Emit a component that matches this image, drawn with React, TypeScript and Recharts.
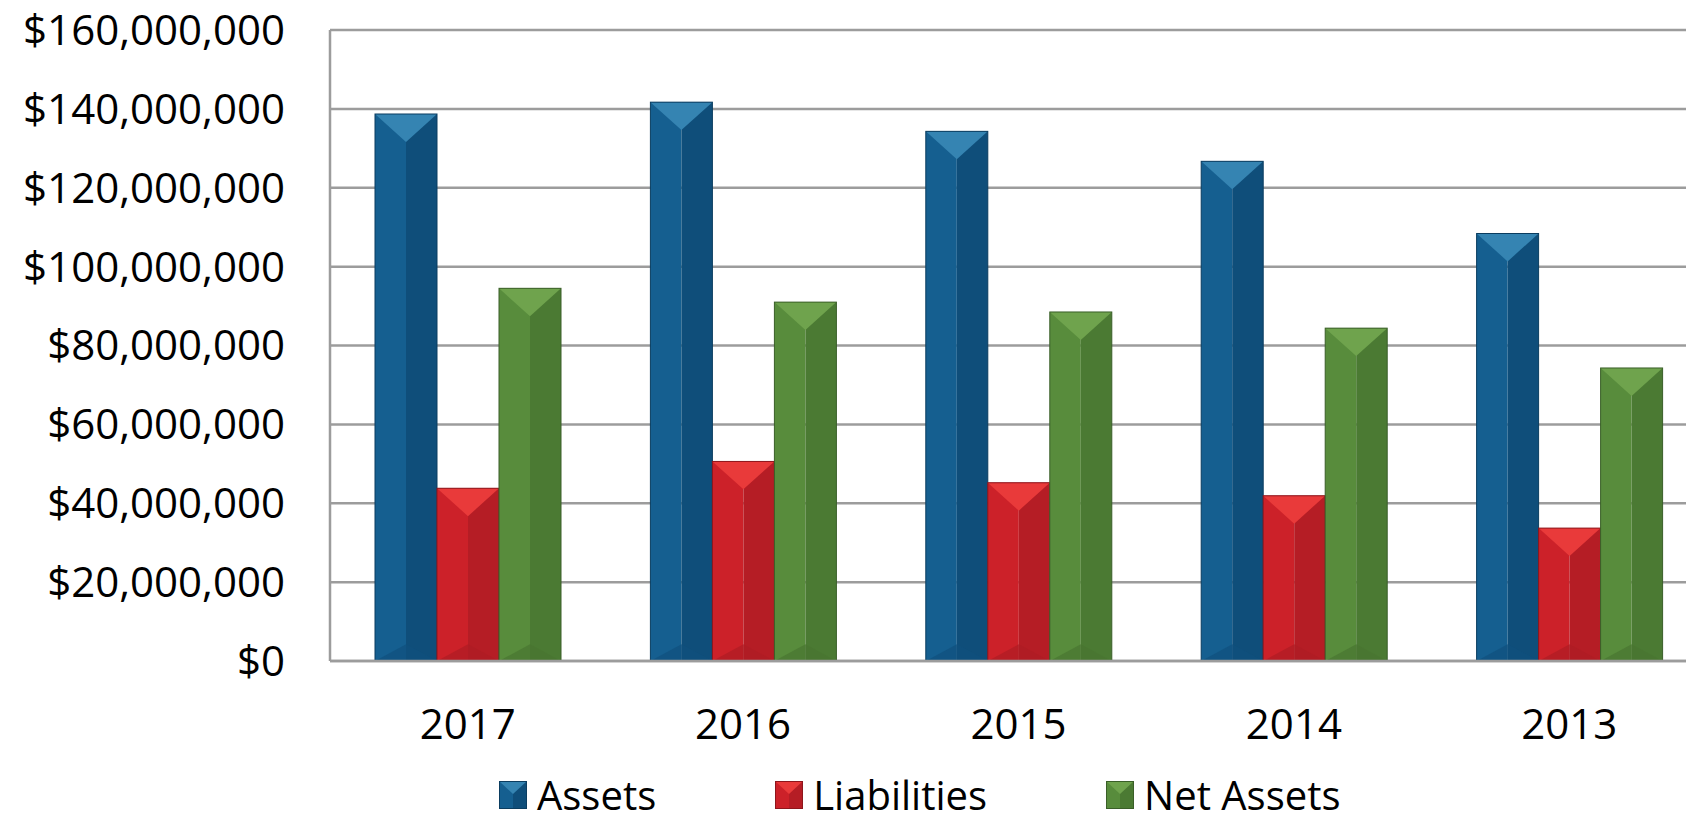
import { BarChart, Bar, XAxis, YAxis, CartesianGrid, Legend } from 'recharts';

const years = ['2017', '2016', '2015', '2014', '2013'];
const assets = [138700000, 141700000, 134300000, 126700000, 108400000];
const liabilities = [43800000, 50600000, 45200000, 41900000, 33700000];
const netAssets = [94500000, 91000000, 88500000, 84400000, 74300000];
const yTicks = [0, 20000000, 40000000, 60000000, 80000000, 100000000, 120000000, 140000000, 160000000];

const data = years.map((year, i) => ({
  year,
  assets: assets[i],
  liabilities: liabilities[i],
  netAssets: netAssets[i],
}));

const palette: Record<string, { left: string; right: string; top: string; bottom: string; edge: string }> = {
  assets: { left: '#155f90', right: '#0f4e7a', top: '#3584b2', bottom: '#10507e', edge: '#0b3d60' },
  liabilities: { left: '#cc2129', right: '#b51d25', top: '#e93a3a', bottom: '#ae1c23', edge: '#8e161c' },
  netAssets: { left: '#588c3c', right: '#4b7a33', top: '#6fa34d', bottom: '#497531', edge: '#3a5f28' },
};

const fmt = (v: number) => '$' + v.toLocaleString('en-US');

const BevelBar = (props: any) => {
  const { x, y, width, height, dataKey } = props;
  if (!height || height <= 0) return null;
  const c = palette[dataKey];
  const half = width / 2;
  const depth = Math.min(width * 0.45, height / 2);
  return (
    <g>
      <rect x={x} y={y} width={half} height={height} fill={c.left} />
      <rect x={x + half} y={y} width={width - half} height={height} fill={c.right} />
      <polygon points={`${x},${y} ${x + width},${y} ${x + half},${y + depth}`} fill={c.top} />
      <polygon
        points={`${x},${y + height} ${x + width},${y + height} ${x + half},${y + height - depth * 0.6}`}
        fill={c.bottom}
        opacity={0.7}
      />
      <rect x={x} y={y} width={width} height={height} fill="none" stroke={c.edge} strokeWidth={1} />
    </g>
  );
};

const legendItems = [
  { key: 'assets', label: 'Assets' },
  { key: 'liabilities', label: 'Liabilities' },
  { key: 'netAssets', label: 'Net Assets' },
];

const LegendSwatch = ({ k }: { k: string }) => {
  const c = palette[k];
  return (
    <svg width={28} height={28} style={{ display: 'block' }}>
      <rect x={0} y={0} width={14} height={28} fill={c.left} />
      <rect x={14} y={0} width={14} height={28} fill={c.right} />
      <polygon points="0,0 28,0 14,13" fill={c.top} />
      <rect x={0.5} y={0.5} width={27} height={27} fill="none" stroke={c.edge} />
    </svg>
  );
};

const CustomLegend = () => (
  <div style={{ display: 'flex', alignItems: 'center', marginLeft: 499, gap: 119, paddingTop: 7 }}>
    {legendItems.map((it) => (
      <div key={it.key} style={{ display: 'flex', alignItems: 'center', gap: 10 }}>
        <LegendSwatch k={it.key} />
        <span style={{ fontSize: 40, color: '#000', lineHeight: '36px' }}>{it.label}</span>
      </div>
    ))}
  </div>
);

export default function App() {
  return (
    <div
      style={{
        position: 'fixed',
        left: 0,
        top: 0,
        width: 1686,
        height: 822,
        overflow: 'hidden',
        fontFamily: '"Open Sans", sans-serif',
        background: '#fff',
      }}
    >
      <BarChart
        width={1707}
        height={822}
        data={data}
        margin={{ top: 30, right: 0, left: 0, bottom: 0 }}
        barGap={0}
      >
        <CartesianGrid vertical={false} stroke="#9c9c9c" strokeWidth={2.5} />
        <XAxis
          dataKey="year"
          height={109}
          tickLine={false}
          tickSize={0}
          tickMargin={48}
          axisLine={{ stroke: '#9c9c9c', strokeWidth: 2.5 }}
          tick={{ fontSize: 42, fill: '#000' }}
        />
        <YAxis
          width={330}
          domain={[0, 160000000]}
          ticks={yTicks}
          tickFormatter={fmt}
          tickLine={false}
          tickSize={0}
          tickMargin={45}
          axisLine={{ stroke: '#9c9c9c', strokeWidth: 2.5 }}
          tick={{ fontSize: 42, fill: '#000' }}
        />
        <Legend
          verticalAlign="bottom"
          align="left"
          height={52}
          content={<CustomLegend />}
          wrapperStyle={{ left: 0, width: 1686 }}
        />
        <Bar dataKey="assets" name="Assets" barSize={62} shape={<BevelBar dataKey="assets" />} isAnimationActive={false} />
        <Bar dataKey="liabilities" name="Liabilities" barSize={62} shape={<BevelBar dataKey="liabilities" />} isAnimationActive={false} />
        <Bar dataKey="netAssets" name="Net Assets" barSize={62} shape={<BevelBar dataKey="netAssets" />} isAnimationActive={false} />
      </BarChart>
    </div>
  );
}
